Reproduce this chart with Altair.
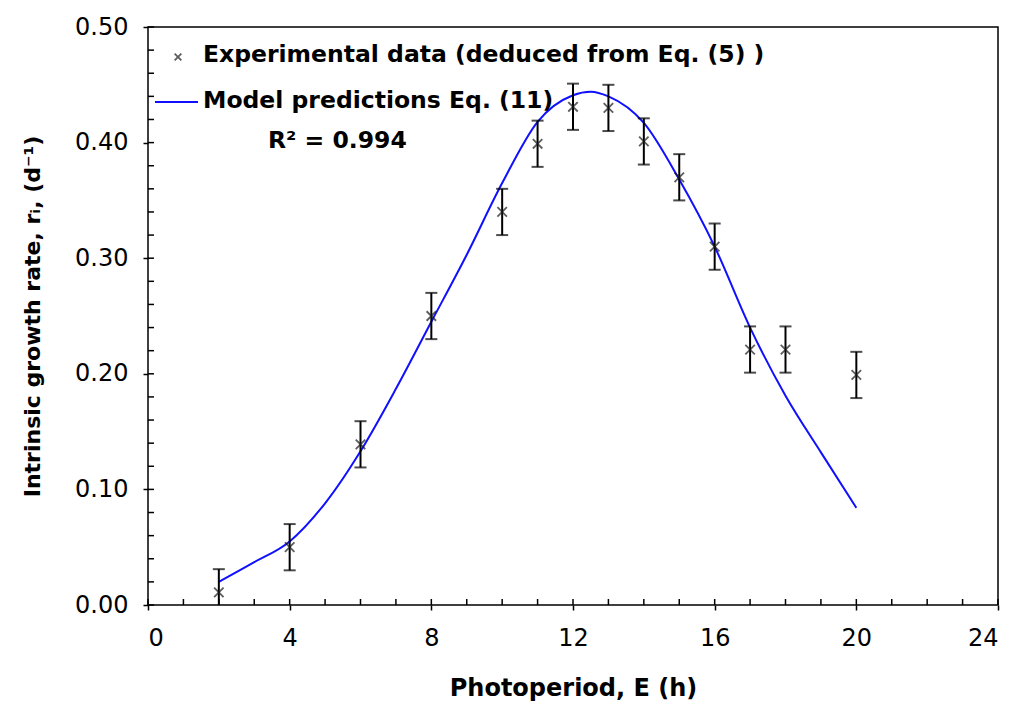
import altair as alt
import pandas as pd

# Experimental data (deduced from Eq. (5))
exp_x = [2, 4, 6, 8, 10, 11, 12, 13, 14, 15, 16, 17, 18, 20]
exp_y = [0.011, 0.050, 0.139, 0.250, 0.340, 0.399, 0.431, 0.430, 0.401, 0.370, 0.310, 0.221, 0.221, 0.199]
exp_err = [0.02, 0.02, 0.02, 0.02, 0.02, 0.02, 0.02, 0.02, 0.02, 0.02, 0.02, 0.02, 0.02, 0.02]

# Model predictions Eq. (11)
mod_x = [2, 3, 4, 5, 6, 7, 8, 9, 10, 11, 12, 12.5, 13, 14, 15, 16, 17, 18, 19, 20]
mod_y = [0.020, 0.037, 0.055, 0.088, 0.133, 0.187, 0.245, 0.303, 0.365, 0.418, 0.441, 0.444,
         0.440, 0.417, 0.368, 0.310, 0.240, 0.181, 0.132, 0.084]

x_major = [0, 4, 8, 12, 16, 20, 24]
y_major = [0.0, 0.1, 0.2, 0.3, 0.4, 0.5]
x_minor = list(range(0, 25))
y_minor = [0.00, 0.02, 0.04, 0.06, 0.08, 0.10, 0.12, 0.14, 0.16, 0.18, 0.20, 0.22, 0.24,
           0.26, 0.28, 0.30, 0.32, 0.34, 0.36, 0.38, 0.40, 0.42, 0.44, 0.46, 0.48, 0.50]

legend_texts = ["Experimental data (deduced from Eq. (5) )", "Model predictions Eq. (11)"]
r2_text = "R² = 0.994"

W, H = 850, 578
FONT = "DejaVu Sans"

exp_df = pd.DataFrame({
    "x": exp_x, "y": exp_y,
    "lo": [a - e for a, e in zip(exp_y, exp_err)],
    "hi": [a + e for a, e in zip(exp_y, exp_err)],
})
mod_df = pd.DataFrame({"x": mod_x, "y": mod_y})

xscale = alt.Scale(domain=[0, 24], nice=False, zero=False)
yscale = alt.Scale(domain=[0, 0.5], nice=False)

x_axis = alt.Axis(values=x_major, format="d", title="Photoperiod, E (h)", grid=False,
                  domain=False, tickSize=5, tickColor="black", tickWidth=1.5,
                  labelFont=FONT, labelFontSize=24, labelColor="black", labelPadding=16,
                  titleFont=FONT, titleFontSize=24, titleFontWeight="bold", titleColor="black",
                  titlePadding=26)
y_axis = alt.Axis(values=y_major, format=".2f", title="Intrinsic growth rate, rᵢ, (d⁻¹)", grid=False,
                  domain=False, tickSize=5, tickColor="black", tickWidth=1.5,
                  labelFont=FONT, labelFontSize=24, labelColor="black", labelPadding=15,
                  titleFont=FONT, titleFontSize=22, titleFontWeight="bold", titleColor="black",
                  titlePadding=30)


def X(f):
    return alt.X(f"{f}:Q", scale=xscale, axis=x_axis)


def Y(f):
    return alt.Y(f"{f}:Q", scale=yscale, axis=y_axis)


curve = alt.Chart(mod_df).mark_line(color="#1010ff", strokeWidth=2, interpolate="monotone").encode(
    x=X("x"), y=Y("y"),
)

bars = alt.Chart(exp_df).mark_rule(color="black", strokeWidth=2, clip=True).encode(
    x=X("x"), y=Y("lo"), y2="hi:Q",
)
cap_hi = alt.Chart(exp_df).mark_tick(color="black", thickness=2, size=12, orient="horizontal", clip=True).encode(
    x=X("x"), y=Y("hi"),
)
cap_lo = alt.Chart(exp_df).mark_tick(color="black", thickness=2, size=12, orient="horizontal", clip=True).encode(
    x=X("x"), y=Y("lo"),
)
cross_path = "M-1,-1L1,1M-1,1L1,-1"
points = alt.Chart(exp_df).mark_point(shape=cross_path, size=90, filled=False, color="#1a1a1a",
                                      strokeWidth=1.8).encode(
    x=X("x"), y=Y("y"),
)

# inward minor ticks
xt = alt.Chart(pd.DataFrame({"t": x_minor})).mark_rule(color="black", strokeWidth=1.5).encode(
    x=X("t"), y=alt.value(H), y2=alt.value(H - 6),
)
yt = alt.Chart(pd.DataFrame({"t": y_minor})).mark_rule(color="black", strokeWidth=1.5).encode(
    y=Y("t"), x=alt.value(0), x2=alt.value(6),
)

# legend
one = pd.DataFrame({"a": [0]})
leg_marker = alt.Chart(one).mark_point(shape=cross_path, size=45, filled=False, color="#1a1a1a",
                                       strokeWidth=1.8).encode(x=alt.value(30), y=alt.value(30))
leg_text1 = alt.Chart(one).mark_text(text=legend_texts[0], font=FONT, fontSize=23.5, fontWeight="bold",
                                     align="left", baseline="middle", color="black").encode(
    x=alt.value(55), y=alt.value(28))
leg_line = alt.Chart(one).mark_rule(color="#1010ff", strokeWidth=2).encode(
    x=alt.value(7), x2=alt.value(50), y=alt.value(75))
leg_text2 = alt.Chart(one).mark_text(text=legend_texts[1], font=FONT, fontSize=23.5, fontWeight="bold",
                                     align="left", baseline="middle", color="black").encode(
    x=alt.value(55), y=alt.value(74))
leg_text3 = alt.Chart(one).mark_text(text=r2_text, font=FONT, fontSize=23.5, fontWeight="bold",
                                     align="left", baseline="middle", color="black").encode(
    x=alt.value(120), y=alt.value(114))

chart = alt.layer(
    curve, bars, cap_hi, cap_lo, points, xt, yt,
    leg_marker, leg_text1, leg_line, leg_text2, leg_text3,
).properties(
    width=W, height=H,
    autosize=alt.AutoSizeParams(type="none"),
    padding={"left": 148, "top": 27, "right": 23, "bottom": 102},
    background="white",
).configure_view(stroke="black", strokeWidth=1.5)

chart.save("out.html", embed_options={"renderer": "svg", "actions": False})
